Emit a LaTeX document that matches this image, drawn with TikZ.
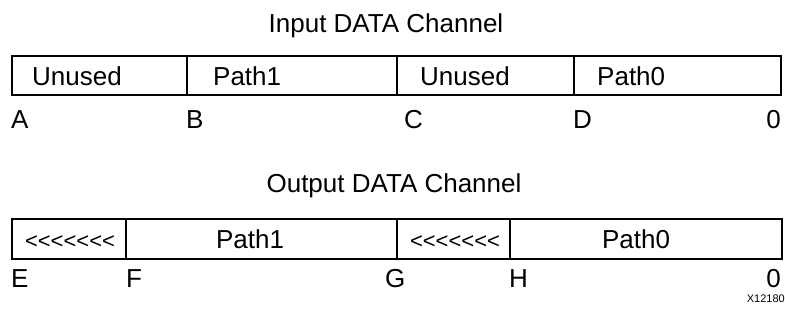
\documentclass[tikz,border=0pt]{standalone}
\usepackage{fontspec}
\setmainfont{Liberation Sans}
\newfontfamily\plainlt{Liberation Sans}
\newcommand{\lts}{{\plainlt <\kern0pt<\kern0pt<\kern0pt<\kern0pt<\kern0pt<\kern0pt<}}
\begin{document}
\begin{tikzpicture}[x=1pt,y=-1pt,
  field/.style={draw=black, line width=1.6pt, rectangle, anchor=north west, inner sep=0pt, minimum height=39pt},
  txt/.style={inner sep=0pt, anchor=base west, font=\fontsize{26}{30}\selectfont},
  ttl/.style={inner sep=0pt, anchor=base, font=\fontsize{26}{30}\selectfont},
  small/.style={inner sep=0pt, anchor=base east, font=\fontsize{11}{13}\selectfont}]
\useasboundingbox (0,0) rectangle (785,320);
% Input channel
\node[ttl] (tin) at (386,33) {Input DATA Channel};
\node[field, minimum width=175pt] (i1) at (11,55) {};
\node[field, minimum width=210pt] (i2) at (186,55) {};
\node[field, minimum width=177pt] (i3) at (396,55) {};
\node[field, minimum width=207pt] (i4) at (573,55) {};
\node[txt] (ti1) at (32,86) {Unused};
\node[txt] (ti2) at (213,86) {Path1};
\node[txt] (ti3) at (420,86) {Unused};
\node[txt] (ti4) at (597,86) {Path0};
\node[txt] (la) at (11,129) {A};
\node[txt] (lb) at (186,129) {B};
\node[txt] (lc) at (404,129) {C};
\node[txt] (ld) at (573,129) {D};
\node[txt, anchor=base east] (l0a) at (781,129) {0};
% Output channel
\node[ttl] (tout) at (394,193) {Output DATA Channel};
\node[field, minimum width=114pt, minimum height=40pt] (o1) at (11,218) {};
\node[field, minimum width=271pt, minimum height=40pt] (o2) at (125,218) {};
\node[field, minimum width=113pt, minimum height=40pt] (o3) at (396,218) {};
\node[field, minimum width=272pt, minimum height=40pt] (o4) at (509,218) {};
\node[txt, anchor=base, font=\fontsize{22}{26}\selectfont] (to1) at (70,249) {\lts};
\node[txt, anchor=base] (to2) at (250,249) {Path1};
\node[txt, anchor=base, font=\fontsize{22}{26}\selectfont] (to3) at (455,249) {\lts};
\node[txt, anchor=base] (to4) at (636,249) {Path0};
\node[txt] (le) at (11,288) {E};
\node[txt] (lf) at (126,288) {F};
\node[txt] (lg) at (385,288) {G};
\node[txt] (lh) at (509,288) {H};
\node[txt, anchor=base east] (l0b) at (781,288) {0};
\node[small] (fig) at (785,303) {X12180};
\end{tikzpicture}
\end{document}
